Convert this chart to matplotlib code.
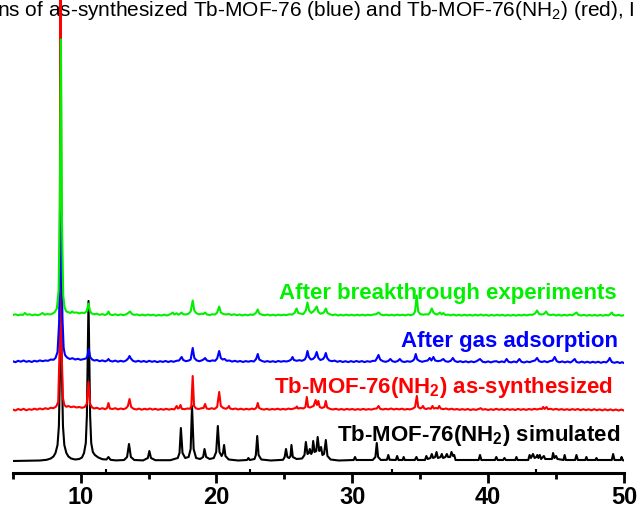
import matplotlib.pyplot as plt
import numpy as np

# ----------------------------
# Fuentes
# ----------------------------
plt.rcParams['font.family'] = ['Liberation Sans', 'DejaVu Sans']
plt.rcParams['mathtext.fontset'] = 'custom'
plt.rcParams['mathtext.rm'] = 'Liberation Sans'
plt.rcParams['mathtext.bf'] = 'Liberation Sans:bold'
plt.rcParams['mathtext.default'] = 'regular'

# ----------------------------
# Datos: difractogramas (2theta, intensidad relativa)
# ----------------------------
# Patrón simulado Tb-MOF-76(NH2)
sim_pts = [
    (5.0, 0.0), (6.5, 0.3), (7.0, 0.5), (7.5, 1.2), (7.8, 2.5), (8.0, 4.5), (8.15, 8), (8.3, 16),
    (8.4, 35), (8.48, 90), (8.55, 175), (8.62, 90), (8.7, 35), (8.8, 16), (8.95, 8), (9.1, 4.5),
    (9.3, 2.5), (9.6, 1.5), (9.9, 2.0), (10.1, 3.5), (10.25, 8), (10.38, 18), (10.46, 45),
    (10.52, 100), (10.58, 160), (10.64, 100), (10.7, 45), (10.78, 18), (10.9, 9), (11.05, 6),
    (11.3, 3.5), (11.6, 1.8), (11.9, 1.5), (12.05, 4), (12.2, 1.2), (12.6, 0.6), (13.2, 1.0),
    (13.42, 4), (13.56, 17), (13.7, 4), (13.95, 1.0), (14.6, 0.6), (14.95, 3), (15.06, 10),
    (15.18, 3), (15.5, 0.8), (16.6, 0.8), (17.15, 3), (17.28, 8), (17.38, 33), (17.5, 8),
    (17.7, 3), (17.95, 4), (18.1, 12), (18.2, 55), (18.32, 12), (18.5, 3), (18.8, 2),
    (19.02, 4), (19.12, 12), (19.24, 4), (19.5, 2), (19.8, 3), (19.98, 9), (20.1, 35),
    (20.22, 9), (20.38, 5), (20.48, 8), (20.56, 16), (20.66, 5), (20.9, 1.5), (21.6, 0.5),
    (22.25, 1.0), (22.35, 3), (22.45, 1.0), (22.8, 2), (22.9, 6), (23.0, 25), (23.1, 6),
    (23.3, 1.5), (24.0, 0.5), (24.9, 1.2), (25.02, 4), (25.12, 12), (25.22, 4), (25.35, 3),
    (25.45, 5), (25.52, 16), (25.62, 4), (25.9, 2), (26.3, 2.5), (26.48, 6), (26.58, 19),
    (26.7, 7), (26.8, 8), (26.87, 12), (26.97, 7), (27.05, 9), (27.12, 20), (27.23, 9),
    (27.35, 10), (27.45, 24), (27.57, 10), (27.63, 11), (27.7, 14), (27.8, 6), (27.92, 7),
    (28.05, 21), (28.17, 5), (28.4, 1.5), (29.0, 0.5), (30.1, 1.0), (30.2, 4), (30.3, 1.0),
    (31.5, 1.0), (31.7, 4), (31.8, 18), (31.9, 4), (32.1, 1.0), (32.55, 1.2), (32.65, 6),
    (32.75, 1.2), (33.2, 1.0), (33.3, 5), (33.4, 1.0), (33.7, 1.0), (33.78, 4), (33.86, 1.0),
    (34.6, 1.0), (34.72, 4), (34.82, 1.0), (35.35, 1.0), (35.45, 5), (35.55, 2), (35.75, 3),
    (35.85, 7), (35.95, 3), (36.1, 4), (36.2, 9), (36.3, 3), (36.5, 4), (36.59, 7), (36.68, 3),
    (36.85, 4), (36.96, 7), (37.05, 4), (37.2, 4), (37.3, 9), (37.42, 5), (37.5, 6), (37.6, 1.0),
    (39.3, 1.0), (39.4, 6), (39.5, 1.0), (40.5, 1.0), (40.6, 4), (40.7, 1.0), (41.1, 1.0),
    (41.2, 3), (41.3, 1.0), (42.0, 1.0), (42.08, 4), (42.16, 1.0), (42.95, 1.0), (43.05, 6),
    (43.15, 3), (43.3, 7), (43.42, 3), (43.55, 4), (43.62, 6), (43.7, 3), (43.8, 6), (43.9, 2),
    (44.1, 5), (44.2, 2), (44.7, 2), (44.78, 8), (44.88, 3), (45.0, 5), (45.1, 2), (45.55, 1.0),
    (45.63, 6), (45.72, 1.0), (46.4, 1.0), (46.5, 6), (46.6, 1.0), (47.15, 1.0), (47.23, 4),
    (47.31, 1.0), (47.9, 1.0), (47.97, 3), (48.05, 1.0), (49.1, 1.0), (49.2, 7), (49.3, 1.0),
    (49.75, 1.0), (49.82, 4), (49.9, 1.0), (50.0, 0.5),
]

# Tb-MOF-76(NH2) tal como se sintetizó
red_pts = [
    (5.0, 0.5), (5.2, -0.5), (5.4, 1.0), (5.6, 0.0), (5.8, 1.2), (6.0, -0.3), (6.2, 0.8), (6.4, 0.2),
    (6.6, 1.3), (6.8, 0.4), (7.0, 1.5), (7.2, 0.6), (7.4, 1.8), (7.6, 1.0), (7.8, 2.2), (8.0, 1.8),
    (8.2, 3.5), (8.35, 8), (8.45, 60), (8.52, 520), (8.6, 60), (8.7, 12), (8.8, 5), (8.95, 3.2),
    (9.1, 4.0), (9.3, 2.8), (9.5, 3.5), (9.7, 2.5), (9.9, 3.0), (10.1, 2.2), (10.3, 3.0), (10.45, 6),
    (10.58, 28), (10.7, 6), (10.85, 2.5), (11.0, 1.5), (11.2, 2.2), (11.4, 1.0), (11.6, 1.8),
    (11.8, 0.8), (11.95, 2), (12.05, 7), (12.15, 1.5), (12.35, 1.0), (12.55, 1.8), (12.75, 0.6),
    (12.95, 1.5), (13.15, 0.8), (13.35, 1.8), (13.48, 4), (13.6, 11), (13.72, 3), (13.9, 1.2),
    (14.1, 0.5), (14.3, 1.4), (14.5, 0.3), (14.7, 1.2), (14.9, 0.5), (15.1, 1.5), (15.3, 0.4),
    (15.5, 1.2), (15.7, 0.2), (15.9, 1.0), (16.1, 0.3), (16.3, 1.2), (16.5, 0.4), (16.7, 1.0),
    (16.9, 0.6), (17.0, 2.5), (17.07, 4), (17.15, 1.5), (17.25, 2), (17.35, 5), (17.45, 1.2),
    (17.65, 0.8), (17.85, 1.5), (18.05, 1.2), (18.15, 4), (18.25, 34), (18.35, 4), (18.5, 1.5),
    (18.7, 1.0), (18.9, 1.8), (19.05, 2), (19.16, 6), (19.28, 1.5), (19.45, 1.0), (19.65, 1.8),
    (19.85, 1.0), (20.05, 3), (20.2, 18), (20.32, 4), (20.5, 2.0), (20.7, 1.2), (20.85, 2.5),
    (20.92, 4), (21.0, 1.5), (21.2, 0.8), (21.4, 1.5), (21.6, 0.5), (21.8, 1.3), (22.0, 0.4),
    (22.2, 1.2), (22.4, 0.5), (22.6, 1.4), (22.8, 0.8), (22.95, 2.5), (23.04, 7), (23.14, 2),
    (23.3, 1.0), (23.5, 0.4), (23.7, 1.2), (23.9, 0.3), (24.1, 1.0), (24.3, 0.5), (24.5, 1.3),
    (24.7, 0.4), (24.9, 1.1), (25.1, 0.5), (25.3, 1.4), (25.5, 0.8), (25.7, 1.5), (25.85, 2.2),
    (25.92, 3.5), (26.0, 1.5), (26.2, 2.0), (26.4, 1.5), (26.55, 3), (26.65, 13), (26.75, 3),
    (26.9, 2.5), (27.05, 3.5), (27.15, 4), (27.3, 10), (27.4, 5), (27.5, 9), (27.6, 3),
    (27.75, 2), (27.95, 3), (28.05, 9), (28.15, 2.5), (28.35, 1.2), (28.55, 0.5), (28.8, 1.2),
    (29.0, 0.3), (29.2, 1.0), (29.4, 0.2), (29.6, 1.1), (29.8, 0.4), (30.0, 1.0), (30.2, 0.2),
    (30.4, 0.9), (30.6, 0.3), (30.8, 1.1), (31.0, 0.3), (31.2, 0.9), (31.4, 0.4), (31.6, 1.2),
    (31.8, 1.5), (31.93, 4), (32.05, 1.2), (32.25, 0.5), (32.45, 1.2), (32.65, 0.6), (32.85, 1.5),
    (33.05, 0.5), (33.25, 1.2), (33.45, 0.6), (33.65, 1.3), (33.85, 0.4), (34.05, 1.0), (34.25, 0.6),
    (34.45, 1.4), (34.62, 3), (34.75, 14), (34.85, 3), (35.0, 1.5), (35.12, 2.5), (35.2, 4),
    (35.3, 1.5), (35.45, 1.0), (35.6, 1.8), (35.78, 1.2), (35.9, 4), (36.0, 1.5), (36.15, 2.0),
    (36.3, 1.5), (36.4, 4), (36.5, 1.5), (36.7, 0.8), (36.9, 1.5), (37.1, 0.5), (37.3, 1.3),
    (37.5, 0.4), (37.7, 1.0), (37.9, 0.2), (38.1, 0.9), (38.3, 0.2), (38.5, 1.0), (38.7, 0.0),
    (38.9, 0.8), (39.1, 0.1), (39.3, 1.0), (39.45, 1.8), (39.6, 0.3), (39.8, 0.9), (40.0, 0.0),
    (40.2, 0.8), (40.4, 0.1), (40.6, 1.2), (40.8, 0.2), (41.0, 0.9), (41.2, 0.0), (41.4, 1.0),
    (41.6, 0.2), (41.8, 0.8), (42.0, 0.0), (42.2, 1.1), (42.4, 0.2), (42.6, 0.9), (42.8, 0.1),
    (43.0, 1.0), (43.2, 0.3), (43.4, 1.2), (43.6, 0.5), (43.8, 1.3), (43.95, 1.0), (44.05, 3),
    (44.15, 1.0), (44.3, 3), (44.4, 0.8), (44.6, 1.2), (44.8, 0.3), (45.0, 1.2), (45.2, 0.2),
    (45.4, 0.9), (45.6, 0.1), (45.8, 0.8), (46.0, 0.0), (46.2, 0.9), (46.4, 0.1), (46.6, 1.0),
    (46.8, -0.2), (47.0, 0.8), (47.2, -0.1), (47.4, 0.7), (47.6, -0.3), (47.8, 0.8), (48.0, -0.2),
    (48.2, 0.6), (48.4, -0.4), (48.6, 0.7), (48.8, -0.3), (49.0, 0.6), (49.2, -0.4), (49.4, 0.5),
    (49.6, -0.5), (49.8, 0.4), (50.0, -0.5),
]

# Después de la adsorción de gases
blue_pts = [
    (5.0, 0.8), (5.2, -0.2), (5.4, 1.2), (5.6, 0.3), (5.8, 1.5), (6.0, 0.2), (6.2, 1.0), (6.4, 0.0),
    (6.6, 1.2), (6.8, 0.5), (7.0, 1.6), (7.2, 0.8), (7.4, 1.5), (7.6, 1.2), (7.8, 2.5), (8.0, 2.2),
    (8.15, 4), (8.3, 10), (8.42, 40), (8.55, 170), (8.66, 45), (8.75, 14), (8.85, 7), (9.0, 4.5),
    (9.2, 3.0), (9.4, 3.8), (9.6, 2.5), (9.8, 3.2), (10.0, 2.2), (10.2, 2.8), (10.4, 3.5),
    (10.5, 6), (10.6, 13), (10.7, 5), (10.85, 2.5), (11.0, 1.5), (11.2, 2.0), (11.4, 0.8),
    (11.6, 1.6), (11.8, 0.6), (11.95, 1.5), (12.05, 3), (12.15, 1.2), (12.35, 0.5), (12.55, 1.4),
    (12.75, 0.3), (12.95, 1.2), (13.15, 0.4), (13.35, 1.5), (13.5, 3.5), (13.6, 6), (13.7, 3.5),
    (13.85, 1.2), (14.05, 0.3), (14.25, 1.2), (14.45, 0.2), (14.65, 1.0), (14.85, 0.0),
    (15.05, 1.2), (15.25, 0.2), (15.45, 0.9), (15.65, -0.1), (15.85, 0.8), (16.05, 0.1),
    (16.25, 1.0), (16.45, 0.0), (16.65, 0.9), (16.85, 0.2), (17.05, 1.2), (17.25, 1.5),
    (17.35, 3.5), (17.44, 5), (17.55, 2.0), (17.75, 0.8), (17.95, 1.4), (18.1, 2.5), (18.25, 14),
    (18.37, 4), (18.55, 1.5), (18.75, 0.8), (18.95, 1.8), (19.05, 2.5), (19.16, 4), (19.3, 1.5),
    (19.5, 0.8), (19.7, 1.6), (19.9, 1.2), (20.05, 3.5), (20.2, 11), (20.32, 4), (20.45, 2.5),
    (20.6, 3), (20.75, 1.2), (20.95, 1.5), (21.15, 0.4), (21.35, 1.2), (21.55, 0.3), (21.75, 1.0),
    (21.95, 0.0), (22.15, 0.9), (22.35, 0.3), (22.55, 1.0), (22.75, 0.5), (22.92, 3.0),
    (23.04, 8), (23.15, 2.5), (23.35, 1.0), (23.55, 0.2), (23.75, 0.9), (23.95, 0.1),
    (24.15, 0.8), (24.35, 0.0), (24.55, 1.0), (24.75, 0.3), (24.95, 0.9), (25.15, 0.5),
    (25.35, 1.2), (25.5, 2.5), (25.6, 5), (25.7, 2.0), (25.9, 1.2), (26.1, 1.8), (26.3, 1.2),
    (26.5, 2.5), (26.6, 5), (26.7, 11), (26.8, 5), (26.95, 2.5), (27.1, 3.0), (27.25, 5),
    (27.38, 10), (27.5, 4), (27.65, 2), (27.85, 3), (27.95, 5), (28.05, 9), (28.15, 4),
    (28.3, 1.5), (28.5, 0.8), (28.7, 1.4), (28.9, 0.2), (29.1, 1.0), (29.3, 0.0), (29.5, 0.8),
    (29.7, -0.1), (29.9, 0.9), (30.1, 0.0), (30.3, 1.0), (30.5, 0.1), (30.7, 0.9), (30.9, -0.1),
    (31.1, 0.8), (31.3, 0.2), (31.5, 1.1), (31.7, 1.2), (31.82, 4), (31.93, 7), (32.05, 2.5),
    (32.25, 0.8), (32.45, 0.2), (32.65, 1.0), (32.8, 3), (32.95, 0.8), (33.15, 0.1), (33.35, 1.0),
    (33.5, 3), (33.65, 0.6), (33.85, 0.0), (34.05, 0.8), (34.25, 0.2), (34.45, 1.2), (34.57, 3),
    (34.67, 8), (34.78, 2.5), (34.95, 1.0), (35.15, 0.2), (35.35, 1.0), (35.55, 1.5), (35.7, 4),
    (35.82, 1.5), (35.97, 5), (36.1, 1.5), (36.3, 0.8), (36.5, 1.3), (36.7, 3), (36.85, 0.8),
    (37.05, 0.2), (37.25, 1.2), (37.4, 4), (37.55, 1.0), (37.75, 0.0), (37.95, 0.8),
    (38.15, -0.2), (38.35, 0.7), (38.55, -0.3), (38.75, 0.6), (38.95, -0.2), (39.15, 0.8),
    (39.4, 3), (39.6, 0.2), (39.8, -0.3), (40.0, 0.6), (40.2, -0.4), (40.4, 0.5), (40.6, 0.8),
    (40.8, -0.3), (41.0, 0.6), (41.2, -0.2), (41.36, 3), (41.5, 0.2), (41.7, -0.4), (41.9, 0.5),
    (42.1, -0.3), (42.3, 3), (42.45, 0.2), (42.65, -0.5), (42.85, 0.5), (43.05, -0.2),
    (43.25, 0.8), (43.45, 1.5), (43.6, 4), (43.75, 0.8), (43.95, 0.0), (44.15, 0.8),
    (44.35, -0.2), (44.55, 0.9), (44.75, 1.5), (44.9, 5), (45.05, 0.8), (45.25, -0.3),
    (45.45, 0.6), (45.65, -0.4), (45.85, 0.5), (46.05, -0.5), (46.2, 0.8), (46.37, 3),
    (46.5, 0.0), (46.7, -0.6), (46.9, 0.4), (47.1, -0.6), (47.3, 0.3), (47.5, -0.7), (47.7, 0.2),
    (47.9, -0.6), (48.1, 0.3), (48.3, -0.8), (48.5, 0.1), (48.7, -0.4), (48.85, 1.5), (48.95, 4),
    (49.1, 0.0), (49.3, -0.8), (49.5, 0.0), (49.7, -1.0), (49.85, -0.2), (50.0, -1.0),
]

# Después de los experimentos de breakthrough
green_pts = [
    (5.0, 0.5), (5.2, 1.2), (5.4, 0.2), (5.6, 1.0), (5.75, 0.5), (5.9, 2.5), (6.05, 0.8),
    (6.25, 1.2), (6.45, 0.2), (6.65, 1.0), (6.85, 0.3), (7.05, 1.2), (7.2, 2.5), (7.35, 0.8),
    (7.55, 1.5), (7.75, 1.0), (7.95, 2.0), (8.1, 3.5), (8.25, 7), (8.38, 25), (8.47, 110),
    (8.55, 276), (8.63, 90), (8.72, 20), (8.82, 8), (8.95, 4), (9.1, 3.2), (9.25, 2.5),
    (9.38, 4), (9.5, 2.8), (9.7, 3.0), (9.9, 2.2), (10.1, 2.8), (10.3, 2.5), (10.45, 4.5),
    (10.58, 12), (10.68, 5), (10.8, 2.2), (11.0, 1.2), (11.2, 1.8), (11.4, 0.6), (11.6, 1.4),
    (11.8, 0.5), (11.95, 1.5), (12.05, 4), (12.15, 1.2), (12.35, 0.4), (12.55, 1.2), (12.75, 0.3),
    (12.95, 1.1), (13.15, 0.3), (13.35, 1.2), (13.5, 2.5), (13.64, 4), (13.78, 1.5), (13.95, 0.6),
    (14.15, 1.1), (14.35, 0.1), (14.55, 0.9), (14.75, 0.0), (14.95, 1.0), (15.15, 0.2),
    (15.35, 0.8), (15.55, -0.2), (15.75, 0.6), (15.95, 0.0), (16.15, 0.8), (16.35, 0.0),
    (16.55, 1.0), (16.7, 2.0), (16.78, 3), (16.9, 1.0), (17.07, 2.2), (17.2, 0.8), (17.35, 2.0),
    (17.42, 3), (17.55, 1.2), (17.75, 1.0), (17.95, 1.8), (18.1, 4), (18.25, 15), (18.37, 5),
    (18.5, 2.5), (18.7, 1.2), (18.9, 1.8), (19.05, 1.5), (19.16, 3), (19.3, 1.0), (19.5, 0.5),
    (19.7, 1.2), (19.9, 1.0), (20.05, 3.0), (20.2, 9), (20.32, 3), (20.5, 1.5), (20.7, 1.0),
    (20.9, 1.6), (21.1, 0.5), (21.3, 1.2), (21.5, 0.3), (21.7, 1.0), (21.9, 0.0), (22.1, 0.9),
    (22.3, 0.2), (22.5, 1.0), (22.7, 0.6), (22.9, 2.5), (23.04, 6), (23.15, 2.0), (23.35, 0.8),
    (23.55, 0.2), (23.75, 1.0), (23.95, 0.1), (24.15, 0.8), (24.35, 0.0), (24.55, 0.9),
    (24.75, 0.2), (24.95, 0.8), (25.15, 0.4), (25.35, 1.2), (25.55, 0.9), (25.75, 2.5),
    (25.9, 7), (26.02, 2.5), (26.2, 1.8), (26.4, 1.5), (26.58, 5), (26.7, 13), (26.82, 5),
    (26.98, 2.5), (27.12, 4), (27.25, 6), (27.38, 9), (27.5, 3.5), (27.65, 1.8), (27.85, 2.5),
    (27.95, 4), (28.05, 7), (28.17, 2.5), (28.35, 1.2), (28.55, 0.4), (28.75, 1.0), (28.95, 0.0),
    (29.15, 0.8), (29.35, 0.0), (29.55, 0.9), (29.75, 0.1), (29.95, 0.8), (30.15, 0.0),
    (30.35, 0.8), (30.55, 0.1), (30.75, 0.9), (30.95, 0.0), (31.15, 0.8), (31.35, 0.2),
    (31.55, 1.0), (31.75, 1.2), (31.93, 3), (32.1, 1.0), (32.3, 0.2), (32.5, 0.9), (32.7, 0.1),
    (32.9, 0.8), (33.1, 0.0), (33.3, 0.9), (33.5, 0.2), (33.7, 0.8), (33.9, 0.1), (34.1, 1.0),
    (34.3, 0.3), (34.5, 1.2), (34.62, 4), (34.74, 20), (34.85, 4), (35.0, 1.5), (35.2, 0.8),
    (35.4, 1.2), (35.6, 1.0), (35.72, 3), (35.85, 7), (35.97, 3), (36.1, 1.5), (36.25, 1.0),
    (36.46, 3), (36.58, 1.0), (36.7, 2.5), (36.85, 0.6), (37.05, 0.9), (37.25, 0.1), (37.45, 1.0),
    (37.65, 0.0), (37.85, 0.8), (38.05, -0.1), (38.25, 0.8), (38.45, 0.0), (38.65, 0.7),
    (38.85, -0.1), (39.05, 0.8), (39.25, 0.0), (39.45, 1.0), (39.65, 0.0), (39.85, 0.7),
    (40.05, -0.2), (40.25, 0.7), (40.45, -0.1), (40.65, 0.8), (40.85, 0.0), (41.05, 0.7),
    (41.25, -0.2), (41.45, 0.6), (41.65, -0.1), (41.85, 0.7), (42.05, -0.2), (42.25, 0.7),
    (42.45, 0.0), (42.65, 0.8), (42.85, 0.1), (43.05, 0.9), (43.25, 0.6), (43.45, 2.0),
    (43.6, 5), (43.75, 1.5), (43.95, 1.0), (44.1, 1.5), (44.27, 4), (44.4, 1.0), (44.6, 0.4),
    (44.8, 1.0), (45.0, 0.0), (45.2, 0.8), (45.4, -0.1), (45.6, 0.7), (45.8, 0.0), (46.0, 0.8),
    (46.2, 0.2), (46.35, 1.5), (46.5, 3), (46.65, 0.5), (46.85, 0.0), (47.05, 0.7), (47.25, -0.2),
    (47.45, 0.6), (47.65, -0.1), (47.85, 0.6), (48.05, -0.2), (48.25, 0.6), (48.45, -0.2),
    (48.65, 0.6), (48.85, 0.0), (49.0, 1.5), (49.1, 3), (49.22, 0.6), (49.4, 0.0), (49.6, 0.6),
    (49.8, -0.2), (50.0, 0.4),
]

# desplazamientos verticales de cada patrón
offsets = {'sim': 12, 'red': 63, 'blue': 111, 'green': 157.5}

labels = {
    'green': "After breakthrough experiments",
    'blue': "After gas adsorption",
    'red': r"Tb-MOF-76(NH$_{\mathbf{2}}$) as-synthesized",
    'sim': r"Tb-MOF-76(NH$_{\mathbf{2}}$) simulated",
}
label_x = {'green': 49.43, 'blue': 49.57, 'red': 49.2, 'sim': 49.72}
label_y = {'green': 173.5, 'blue': 126.3, 'red': 79.7, 'sim': 32.3}

caption = "ns of as-synthesized Tb-MOF-76 (blue) and Tb-MOF-76(NH$_2$) (red), I"

colors = {'sim': 'black', 'red': '#ff0000', 'blue': '#0000ff', 'green': '#00f000'}
series = {'sim': sim_pts, 'red': red_pts, 'blue': blue_pts, 'green': green_pts}

# ----------------------------
# Figura
# ----------------------------
fig = plt.figure(figsize=(6.4, 5.11), dpi=100)
ax = fig.add_axes([12.7 / 640, 1 - 473 / 511, (624 - 12.7) / 640, 473 / 511])

for key in ['sim', 'red', 'blue', 'green']:
    tt, inten = np.array(series[key]).T
    ax.plot(tt, inten + offsets[key], color=colors[key], lw=1.5, solid_joinstyle='round')
    ax.text(label_x[key], label_y[key], labels[key], color=colors[key], ha='right',
            va='baseline', fontsize=16, fontweight='bold')

ax.set_xlim(5, 50)
ax.set_ylim(0, 473)

# solo eje inferior
for side in ['left', 'right', 'top']:
    ax.spines[side].set_visible(False)
ax.spines['bottom'].set_linewidth(2.2)
ax.set_yticks([])
ax.set_xticks([10, 20, 30, 40, 50])
ax.set_xticks([5, 15, 25, 35, 45], minor=True)
ax.tick_params(axis='x', which='major', length=7.5, width=2, pad=2, labelsize=17)
ax.tick_params(axis='x', which='minor', length=4, width=2)
for lab in ax.get_xticklabels():
    lab.set_fontweight('bold')

# marcas cortas hacia dentro del eje
sec = ax.secondary_xaxis('bottom')
sec.spines['bottom'].set_visible(False)
sec.set_xticks([11.9, 22.5, 32.9, 43.5])
sec.tick_params(direction='in', length=3, width=1.5, labelbottom=False)

# leyenda de figura (parte superior)
ax.text(-3 / 640, 1 - 15.5 / 511, caption, transform=fig.transFigure, fontsize=15,
        ha='left', va='baseline', zorder=1, clip_on=False)

fig.savefig('out.png', dpi=100)
